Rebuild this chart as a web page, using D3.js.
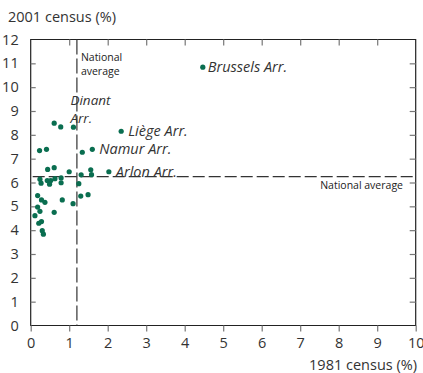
<!DOCTYPE html>
<html><head><meta charset="utf-8">
<script src="https://cdn.jsdelivr.net/npm/d3@7"></script>
<style>body{margin:0;background:#fff}svg{display:block}</style>
</head><body>
<script>
const xVals = [0.61,0.78,1.11,2.35,0.23,0.41,1.34,1.60,0.44,0.61,1.00,1.56,1.58,1.31,2.03,0.24,0.27,0.43,0.52,0.49,0.63,0.79,0.79,1.25,0.18,0.28,0.37,0.82,1.10,1.30,1.49,0.18,0.61,0.24,0.11,0.28,0.21,0.30,0.33,4.47];
const yVals = [8.49,8.33,8.32,8.15,7.34,7.39,7.27,7.39,6.55,6.62,6.45,6.53,6.33,6.32,6.45,6.14,5.97,6.08,6.08,5.93,6.16,6.19,5.99,5.95,5.45,5.27,5.17,5.27,5.11,5.43,5.49,4.97,4.75,4.79,4.61,4.36,4.29,3.98,3.83,10.84];
const xTicks = [0,1,2,3,4,5,6,7,8,9,10];
const yTicks = [0,1,2,3,4,5,6,7,8,9,10,11,12];
const nationalX = 1.2;
const nationalY = 6.25;
const labelNames = ["Brussels Arr.","Liège Arr.","Namur Arr.","Arlon Arr."];
const labelIdx = [39,3,7,14];

const W=423,H=373;
const svg=d3.select("body").append("svg").attr("width",W).attr("height",H);
const x=d3.scaleLinear().domain([0,10]).range([30.7,415.7]);
const y=d3.scaleLinear().domain([0,12]).range([325.5,39.5]);
const font="'Open Sans', sans-serif";
const grey="#777";

// frame
svg.append("path").attr("d",`M${x(0)},${y(0)}V${y(12)}H${x(10)}V${y(0)}Z`)
  .attr("fill","none").attr("stroke","#222").attr("stroke-width",1.2);

// bottom axis
const xa=svg.append("g").attr("transform",`translate(0,${y(0)})`)
  .call(d3.axisBottom(x).tickValues(xTicks).tickSize(6).tickPadding(6));
xa.select(".domain").remove();
xa.selectAll("line").attr("stroke",grey).attr("stroke-width",1.2);
xa.selectAll("text").attr("font-family",font).attr("font-size",14.5).attr("fill","#333");
// top inner ticks
const xt=svg.append("g").attr("transform",`translate(0,${y(12)})`)
  .call(d3.axisTop(x).tickValues(xTicks.slice(1,-1)).tickSize(-6).tickFormat(""));
xt.select(".domain").remove();
xt.selectAll("line").attr("stroke",grey).attr("stroke-width",1.2);

// left axis inner ticks
const ya=svg.append("g").attr("transform",`translate(${x(0)},0)`)
  .call(d3.axisLeft(y).tickValues(yTicks).tickSize(-5).tickPadding(12));
ya.select(".domain").remove();
ya.selectAll("line").attr("stroke",grey).attr("stroke-width",1.2);
ya.selectAll("text").attr("font-family",font).attr("font-size",14.5).attr("fill","#333");
ya.selectAll(".tick").filter(d=>d===0||d===12).select("line").remove();
// right inner ticks
const yr=svg.append("g").attr("transform",`translate(${x(10)},0)`)
  .call(d3.axisRight(y).tickValues(yTicks.slice(1,-1)).tickSize(-6).tickFormat(""));
yr.select(".domain").remove();
yr.selectAll("line").attr("stroke",grey).attr("stroke-width",1.2);

// national average lines
svg.append("line").attr("x1",x(nationalX)).attr("x2",x(nationalX)).attr("y1",y(12)).attr("y2",y(0))
  .attr("stroke","#333").attr("stroke-width",1.2).attr("stroke-dasharray","15,4");
svg.append("line").attr("x1",x(0)+2).attr("x2",x(10)).attr("y1",y(nationalY)).attr("y2",y(nationalY))
  .attr("stroke","#333").attr("stroke-width",1.2).attr("stroke-dasharray","12,4");

// points
svg.selectAll("circle.pt").data(xVals.map((v,i)=>[v,yVals[i]])).enter().append("circle")
  .attr("cx",d=>x(d[0])).attr("cy",d=>y(d[1])).attr("r",2.6).attr("fill","#0a6e50");

// labels
const lab=svg.append("g").attr("font-family",font).attr("font-style","italic").attr("font-size",14.5).attr("fill","#333");
labelIdx.forEach((k,i)=>{
  lab.append("text").attr("x",x(xVals[k])+(i===0?5:7)).attr("y",y(yVals[k])+5).text(labelNames[i]);
});
const dn=lab.append("text").attr("font-size",13.5).attr("x",x(xVals[2])-3).attr("y",y(yVals[2])-22.5);
dn.append("tspan").attr("x",x(xVals[2])-3).attr("dy",0).text("Dinant");
dn.append("tspan").attr("x",x(xVals[2])-3).attr("dy",18.5).text("Arr.");

const small=svg.append("g").attr("font-family",font).attr("font-size",10.5).attr("fill","#222");
const na=small.append("text").attr("x",x(nationalX)+4).attr("y",61);
na.append("tspan").attr("x",x(nationalX)+4).attr("dy",0).text("National");
na.append("tspan").attr("x",x(nationalX)+4).attr("dy",14).text("average");
small.append("text").attr("x",403).attr("y",y(nationalY)+12).attr("text-anchor","end").text("National average");

// axis titles
svg.append("text").attr("x",8).attr("y",22).attr("font-family",font).attr("font-size",14.5).attr("fill","#333").text("2001 census (%)");
svg.append("text").attr("x",417).attr("y",370).attr("text-anchor","end").attr("font-family",font).attr("font-size",14.5).attr("fill","#333").text("1981 census (%)");
</script>
</body></html>
